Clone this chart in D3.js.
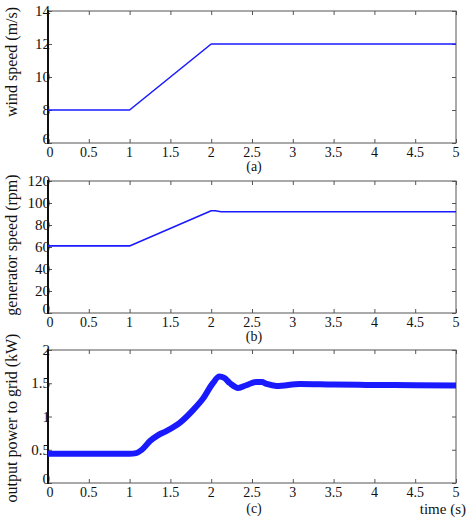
<!DOCTYPE html>
<html>
<head>
<meta charset="utf-8">
<script src="https://cdn.jsdelivr.net/npm/d3@7/dist/d3.min.js"></script>
<style>
  html, body { margin: 0; padding: 0; background: #fff; }
  svg text { font-family: "Liberation Serif", "Times New Roman", "DejaVu Serif", serif; }
</style>
</head>
<body>
<svg id="chart" width="467" height="526"></svg>
<script>
// Three stacked time-series panels: wind speed, generator speed, output power.

const X_TICKS = [0, 0.5, 1, 1.5, 2, 2.5, 3, 3.5, 4, 4.5, 5];

const WIND_T = [0, 1, 2, 5];
const WIND_V = [8, 8, 12, 12];

const GEN_T = [0, 1, 2, 2.05, 2.12, 5];
const GEN_V = [61, 61, 93, 93, 92, 92];

const POWER_T = [0, 0.5, 1.0, 1.08, 1.15, 1.25, 1.35, 1.45, 1.61, 1.78, 1.9, 2.02, 2.1, 2.16, 2.23, 2.33, 2.43, 2.55, 2.62, 2.68, 2.8, 3.09, 3.5, 3.9, 4.5, 5];
const POWER_V = [0.44, 0.44, 0.44, 0.45, 0.5, 0.63, 0.72, 0.78, 0.9, 1.1, 1.27, 1.5, 1.6, 1.58, 1.5, 1.43, 1.47, 1.52, 1.52, 1.49, 1.46, 1.49, 1.48, 1.475, 1.47, 1.465];

const PANELS = [
  { t: WIND_T, v: WIND_V, yTicks: [6, 8, 10, 12, 14], yDomain: [6, 14], yLabel: 'wind speed (m/s)', tag: '(a)',
    top: 11, bottom: 143, labelY: 62, tagY: 171, width: 1.6 },
  { t: GEN_T, v: GEN_V, yTicks: [0, 20, 40, 60, 80, 100, 120], yDomain: [0, 120], yLabel: 'generator speed (rpm)', tag: '(b)',
    top: 181, bottom: 313, labelY: 245, tagY: 341, width: 1.6 },
  { t: POWER_T, v: POWER_V, yTicks: [0, 0.5, 1, 1.5, 2], yDomain: [0, 2], yLabel: 'output power to grid (kW)', tag: '(c)',
    top: 350, bottom: 483, labelY: 418, tagY: 513, width: 6 }
];

const LEFT = 48, RIGHT = 456;
const INK = '#111';
const FRAME = '#555';
const BLUE = '#1a1aff';

const svg = d3.select('#chart');
const x = d3.scaleLinear().domain([0, 5]).range([LEFT, RIGHT]);

PANELS.forEach(p => {
  const y = d3.scaleLinear().domain(p.yDomain).range([p.bottom, p.top]);
  const g = svg.append('g');
  const h = p.bottom - p.top;

  // frame
  g.append('rect').attr('x', LEFT).attr('y', p.top).attr('width', RIGHT - LEFT).attr('height', h)
    .attr('fill', 'none').attr('stroke', FRAME).attr('stroke-width', 1);

  // inward ticks, all four sides
  const tickStyle = a => { a.select('.domain').remove(); a.selectAll('line').attr('stroke', FRAME); };
  g.append('g').attr('transform', `translate(0,${p.bottom})`)
    .call(d3.axisTop(x).tickValues(X_TICKS).tickSize(4).tickFormat('')).call(tickStyle);
  g.append('g').attr('transform', `translate(0,${p.top})`)
    .call(d3.axisBottom(x).tickValues(X_TICKS).tickSize(4).tickFormat('')).call(tickStyle);
  g.append('g').attr('transform', `translate(${LEFT},0)`)
    .call(d3.axisRight(y).tickValues(p.yTicks).tickSize(4).tickFormat('')).call(tickStyle);
  g.append('g').attr('transform', `translate(${RIGHT},0)`)
    .call(d3.axisLeft(y).tickValues(p.yTicks).tickSize(4).tickFormat('')).call(tickStyle);

  // heavy left spine
  g.append('line').attr('x1', LEFT).attr('x2', LEFT).attr('y1', p.top - 1).attr('y2', p.bottom + 1)
    .attr('stroke', INK).attr('stroke-width', 2);

  // tick labels
  g.selectAll('.xl').data(X_TICKS).join('text')
    .attr('x', (d, i) => x(d) + (i === 0 ? 2 : 0)).attr('y', p.bottom + 14)
    .attr('text-anchor', 'middle').attr('fill', INK).style('font-size', '14px')
    .text(d => d);
  g.selectAll('.yl').data(p.yTicks).join('text')
    .attr('x', LEFT + 2).attr('y', (d, i) => y(d) + (i === 0 ? 1 : 5))
    .attr('text-anchor', 'end').attr('fill', INK).style('font-size', '15px')
    .text(d => d);

  // y label
  g.append('text').attr('transform', `translate(17,${p.labelY}) rotate(-90)`)
    .attr('text-anchor', 'middle').attr('fill', INK).style('font-size', '16px')
    .text(p.yLabel);

  // panel tag
  g.append('text').attr('x', (LEFT + RIGHT) / 2 + 2).attr('y', p.tagY)
    .attr('text-anchor', 'middle').attr('fill', INK).style('font-size', '14px')
    .text(p.tag);

  // series
  const pts = p.t.map((t, i) => ({ t, v: p.v[i] }));
  const line = d3.line().x(d => x(d.t)).y(d => y(d.v));
  if (p.tag === '(c)') line.curve(d3.curveMonotoneX);
  g.append('path').datum(pts)
    .attr('fill', 'none').attr('stroke', BLUE).attr('stroke-width', p.width)
    .attr('stroke-linejoin', 'round').attr('d', line);
});

svg.append('text').attr('x', 466).attr('y', 514)
  .attr('text-anchor', 'end').attr('fill', INK).style('font-size', '15px')
  .text('time (s)');
</script>
</body>
</html>
